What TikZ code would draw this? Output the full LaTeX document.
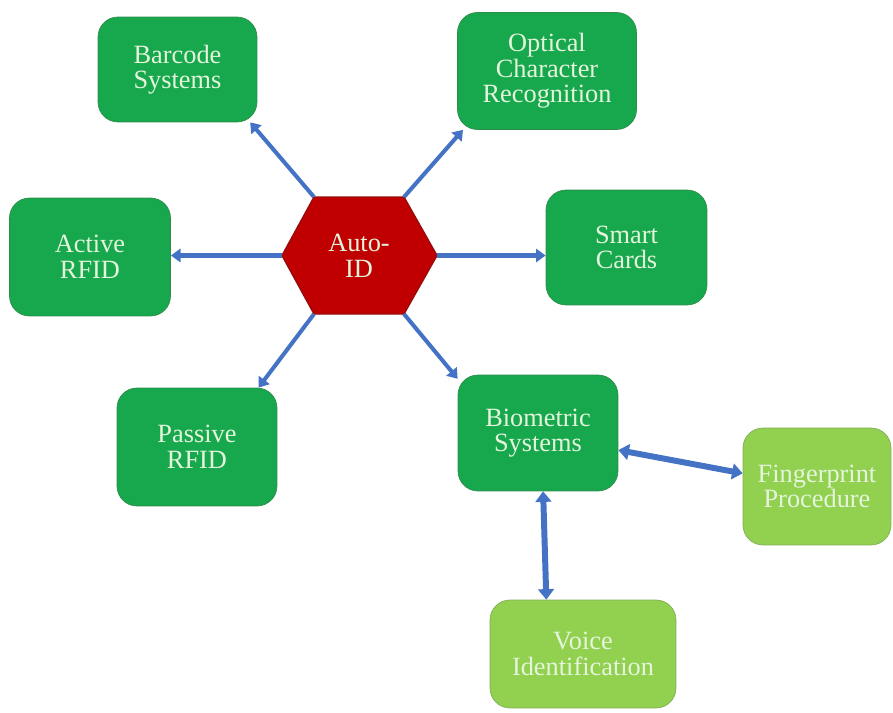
\documentclass[tikz,border=0pt]{standalone}
\usepackage{fontspec}
\setmainfont{Liberation Serif}
\usepackage{tikz}
\usetikzlibrary{arrows.meta}
\definecolor{boxgreen}{HTML}{17A84E}
\definecolor{boxline}{HTML}{2E8B4A}
\definecolor{leafgreen}{HTML}{92D050}
\definecolor{leafline}{HTML}{7FAE55}
\definecolor{hexred}{HTML}{C00000}
\definecolor{hexline}{HTML}{9A0A0A}
\definecolor{linkblue}{HTML}{4472C4}
\definecolor{paletext}{HTML}{E4F5DC}

\begin{document}
\begin{tikzpicture}[x=0.02cm, y=-0.02cm,
    idbox/.style={draw=boxline, fill=boxgreen, rounded corners=0.4cm, align=center,
      text=paletext, font=\fontsize{15}{14.5}\selectfont, inner sep=2pt},
    subbox/.style={idbox, draw=leafline, fill=leafgreen},
    link/.style={line width=2.3pt, linkblue, -{Triangle[length=5.5pt, width=7.5pt]}},
    biglink/.style={line width=3.4pt, linkblue,
      {Triangle[length=6pt, width=9pt]}-{Triangle[length=6pt, width=9pt]}}]
    \useasboundingbox (0,0) rectangle (893,713);

    % the hexagon in the middle
    \coordinate (htl) at (314,197);
    \coordinate (htr) at (404,197);
    \coordinate (hr) at (437,255.5);
    \coordinate (hbr) at (404,314);
    \coordinate (hbl) at (314,314);
    \coordinate (hl) at (282,255.5);
    \filldraw[fill=hexred, draw=hexline, line width=0.8pt]
      (htl) -- (htr) -- (hr) -- (hbr) -- (hbl) -- (hl) -- cycle;
    \node[align=center, text=paletext, font=\fontsize{15}{14.5}\selectfont] (autoid) at (359,256) {Auto-\\ID};

    % outer boxes
    \node[idbox, minimum width=3.18cm, minimum height=2.1cm] (barcode) at (177.5,69.5) {Barcode\\Systems};
    \node[idbox, minimum width=3.58cm, minimum height=2.34cm] (ocr) at (547,71) {Optical\\Character\\Recognition};
    \node[idbox, minimum width=3.22cm, minimum height=2.36cm] (active) at (90,257) {Active\\RFID};
    \node[idbox, minimum width=3.22cm, minimum height=2.3cm] (smart) at (626.5,247.5) {Smart\\Cards};
    \node[idbox, minimum width=3.2cm, minimum height=2.36cm] (passive) at (197,447) {Passive\\RFID};
    \node[idbox, minimum width=3.2cm, minimum height=2.32cm] (bio) at (538,433) {Biometric\\Systems};
    \node[subbox, minimum width=2.96cm, minimum height=2.34cm] (finger) at (817,486.5) {Fingerprint\\Procedure};
    \node[subbox, minimum width=3.72cm, minimum height=2.16cm] (voice) at (583,654) {Voice\\Identification};

    % links
    \draw[link] (htl) -- (barcode.-36);
    \draw[link] (htr) -- (ocr.215);
    \draw[link] (hl) -- (hl -| active.east);
    \draw[link] (hr) -- (hr -| smart.west);
    \draw[link] (hbl) -- (passive.44);
    \draw[link] (hbr) -- (bio.146);
    \draw[biglink] (bio.-12) -- (finger.170);
    \draw[biglink] (bio.-85) -- (voice.124);
  \end{tikzpicture}
\end{document}
